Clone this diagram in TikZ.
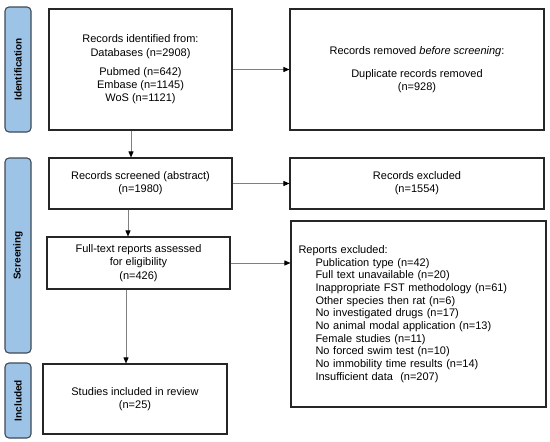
\documentclass[tikz,border=0pt]{standalone}
\usepackage{fontspec}
\setmainfont{Liberation Sans}
\usetikzlibrary{arrows,arrows.meta,positioning}
\definecolor{phase}{HTML}{9DC3E6}
\definecolor{phaseline}{HTML}{3F4A55}
\tikzset{
    box/.style={draw=black!85, line width=1.1pt, align=center, inner sep=2pt},
    phasebox/.style={draw=phaseline, line width=1.1pt, fill=phase, rounded corners=4pt,
        minimum width=26pt, font=\bfseries},
    arr/.style={draw=black!50, line width=0.9pt, -{Triangle[black,length=6pt,width=5pt]}}
}
\begin{document}
\begin{tikzpicture}[x=1pt, y=-1pt, font=\fontsize{11}{13.3}\selectfont]
    \useasboundingbox (0,0) rectangle (550,442);
    \node[phasebox, minimum height=125pt] (ident) at (18,69.5)
        {\rotatebox{90}{Identification}};
    \node[phasebox, minimum height=195pt] (screen) at (18,255.5)
        {\rotatebox{90}{Screening}};
    \node[phasebox, minimum height=75pt] (incl) at (18,400.5)
        {\rotatebox{90}{Included}};
    \node[box, minimum width=183pt, minimum height=121pt] (found) at (140.5,69.5)
        {Records identified from:\\Databases (n=2908)\\[6pt]
         Pubmed (n=642)\\Embase (n=1145)\\WoS (n=1121)};
    \node[box, minimum width=254pt, minimum height=121pt] (dupl) at (417,69.5)
        {Records removed \textit{before screening}:\\[10pt]
         Duplicate records removed\\(n=928)};
    \node[box, minimum width=183pt, minimum height=51pt] (screened) at (140.5,183.5)
        {Records screened (abstract)\\(n=1980)};
    \node[box, minimum width=254pt, minimum height=51pt] (excl) at (417,183.5)
        {Records excluded\\(n=1554)};
    \node[box, minimum width=183pt, minimum height=52pt] (fulltext) at (138.5,263)
        {Full-text reports assessed\\for eligibility\\(n=426)};
    \node[box, minimum width=255pt, minimum height=186pt, text width=240pt, align=left,
        font=\fontsize{11}{12.7}\selectfont] (reports) at (418.5,314)
        {Reports excluded:\\
         \hspace*{17pt}Publication type (n=42)\\
         \hspace*{17pt}Full text unavailable (n=20)\\
         \hspace*{17pt}Inappropriate FST methodology (n=61)\\
         \hspace*{17pt}Other species then rat (n=6)\\
         \hspace*{17pt}No investigated drugs (n=17)\\
         \hspace*{17pt}No animal modal application (n=13)\\
         \hspace*{17pt}Female studies (n=11)\\
         \hspace*{17pt}No forced swim test (n=10)\\
         \hspace*{17pt}No immobility time results (n=14)\\
         \hspace*{17pt}Insufficient data\ \ (n=207)};
    \node[box, minimum width=184pt, minimum height=70pt] (included) at (135,399)
        {Studies included in review\\(n=25)};
    \draw[arr] (found.east) -- (found.east -| dupl.west);
    \draw[arr] (screened.east) -- (screened.east -| excl.west);
    \draw[arr] (fulltext.east) -- (fulltext.east -| reports.west);
    \draw[arr] ([xshift=-9.5pt]found.south) -- ([xshift=-9.5pt]found.south |- screened.north);
    \draw[arr] ([xshift=-12.5pt]screened.south) -- ([xshift=-12.5pt]screened.south |- fulltext.north);
    \draw[arr] ([xshift=-12.5pt]fulltext.south) -- ([xshift=-12.5pt]fulltext.south |- included.north);
\end{tikzpicture}
\end{document}
